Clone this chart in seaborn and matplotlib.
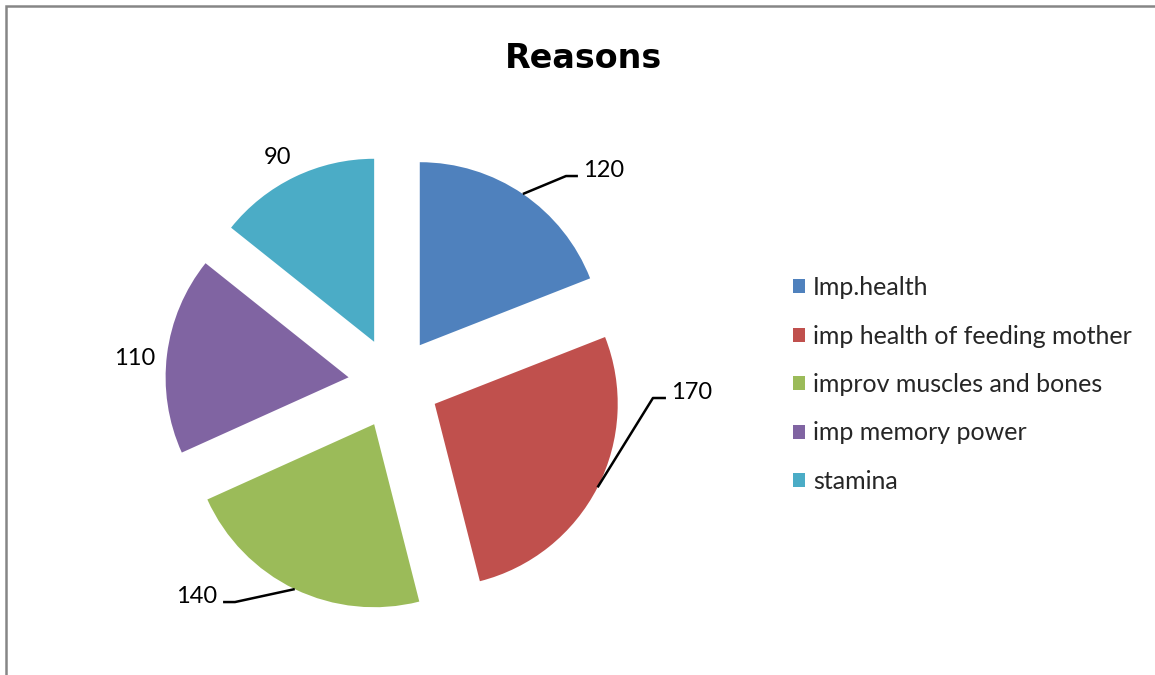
import matplotlib
matplotlib.use('Agg')
import matplotlib.pyplot as plt
import matplotlib.patches as mpatches
import numpy as np
import seaborn as sns

##########
# Data   #
##########
reasons = ['Imp.health', 'imp health of feeding mother', 'improv muscles and bones',
           'imp memory power', 'stamina']
counts = [120, 170, 140, 110, 90]
colors = ['#4F81BD', '#C0504D', '#9BBB59', '#8064A2', '#4BACC6']

#########
# Setup #
#########
sns.set_theme(style='white')
plt.rcParams['font.family'] = ['Lato', 'DejaVu Sans']

W, H = 1155, 675
fig = plt.figure(figsize=(W / 100, H / 100), dpi=100)
fig.patch.set_facecolor('white')

# pie centre and radius in pixels
cx, cy, r_px = 394, 383, 183
hx, hy = 300, 290
ax = fig.add_axes([(cx - hx) / W, (H - cy - hy) / H, 2 * hx / W, 2 * hy / H])

wedges, _ = ax.pie(counts, colors=colors, startangle=90, counterclock=False,
                   explode=[0.25] * len(counts), radius=1,
                   wedgeprops=dict(linewidth=0))
ax.set_xlim(-hx / r_px, hx / r_px)
ax.set_ylim(-hy / r_px, hy / r_px)
ax.set_aspect('equal', adjustable='box')
ax.axis('off')

# label placement (text baseline anchor, elbow, end of leader) in data units
label_style = [
    dict(xy=(1.033, 1.126), ha='left', leader=((0.940, 1.131), (1.005, 1.131))),
    dict(xy=(1.514, -0.087), ha='left', leader=((1.415, -0.082), (1.486, -0.082))),
    dict(xy=(-0.967, -1.202), ha='right', leader=((-0.869, -1.197), (-0.934, -1.197))),
    dict(xy=(-1.415, 0.098), ha='center', leader=None),
    dict(xy=(-0.634, 1.197), ha='center', leader=None),
]

for w, val, st in zip(wedges, counts, label_style):
    ax.text(st['xy'][0], st['xy'][1], str(val), ha=st['ha'], va='baseline',
            fontsize=17, color='black', clip_on=False)
    if st['leader'] is not None:
        mid = np.deg2rad((w.theta1 + w.theta2) / 2)
        x0 = w.center[0] + w.r * np.cos(mid)
        y0 = w.center[1] + w.r * np.sin(mid)
        (ex, ey), (tx, ty) = st['leader']
        ax.plot([x0, ex, tx], [y0, ey, ty], color='black', lw=1.8,
                clip_on=False, solid_capstyle='butt')

# title
fig.text(584 / W, 1 - 68 / H, 'Reasons', ha='center', va='baseline',
         fontsize=24, fontweight='bold', color='black', family='DejaVu Sans')

# legend
handles = [mpatches.Patch(facecolor=c, edgecolor='none') for c in colors]
fig.legend(handles, reasons, loc='upper left',
           bbox_to_anchor=(793 / W, 1 - 276 / H), frameon=False,
           fontsize=18, handlelength=0.48, handleheight=0.48,
           handletextpad=0.32, labelspacing=1.02, borderpad=0,
           borderaxespad=0)

# chart border
fig.add_artist(mpatches.Rectangle((6 / W, -0.01), 1.05, 1 - 6 / H + 0.01,
                                  transform=fig.transFigure, fill=False,
                                  edgecolor='#868686', linewidth=1.8))

fig.savefig('out.png', dpi=100)
